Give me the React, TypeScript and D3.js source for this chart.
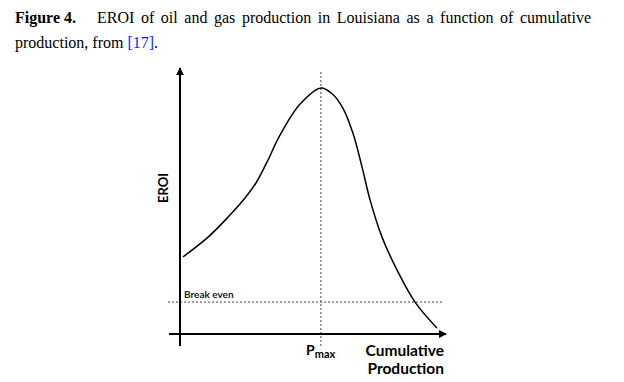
import React, { useLayoutEffect, useRef, useState } from "react";
import * as d3 from "d3";

const cumulativeProduction = [1.15, 10.8, 18.5, 25.0, 29.2, 33.5, 38.5, 46.2, 54.2, 58.5, 62.7, 66.5, 70.0, 73.1, 77.7, 83.5, 90.4, 98.8];
const eroiValues = [29.2, 36.7, 44.3, 51.5, 57.2, 65.2, 75.4, 87.1, 93.2, 91.0, 85.5, 76.1, 63.3, 50.8, 36.7, 24.2, 12.1, 2.3];
const breakEven = 12.1;
const pMax = 54.2;
const captionLabel = "Figure 4.";
const captionLine1 = "EROI of oil and gas production in Louisiana as a function of cumulative";
const captionLine2a = "production, from ";
const captionRef = "[17]";
const captionLine2b = ".";

export default function App() {
  const W = 624, H = 382;
  const x = d3.scaleLinear().domain([0, 100]).range([180, 440]);
  const y = d3.scaleLinear().domain([0, 100]).range([334, 70]);
  const line = d3
    .line<number>()
    .x((_, i) => x(cumulativeProduction[i]))
    .y((d) => y(d))
    .curve(d3.curveCatmullRom.alpha(0.5));

  const capRef = useRef<SVGTextElement>(null);
  const [ws, setWs] = useState(0);
  useLayoutEffect(() => {
    if (capRef.current) {
      const natural = capRef.current.getComputedTextLength();
      const spaces = captionLine1.split(" ").length - 1;
      setWs((591 - 97 - natural) / spaces);
    }
  }, []);

  const x0 = x(0);
  const y0 = y(0);
  const serif = "'Liberation Serif', 'Times New Roman', serif";
  const sans = "Lato, 'Open Sans', sans-serif";

  return (
    <svg width={W} height={H} style={{ position: "absolute", left: 0, top: 0 }}>
      <rect width={W} height={H} fill="#fff" />
      <defs>
        <marker id="arr" viewBox="0 0 10 10" refX="9" refY="5" markerWidth="4" markerHeight="4" orient="auto">
          <path d="M0,0 L10,5 L0,10 z" fill="#000" />
        </marker>
      </defs>
      {/* caption */}
      <text x={15} y={23} fontFamily={serif} fontSize={16} fontWeight="bold" fill="#000">{captionLabel}</text>
      <text ref={capRef} x={97} y={23} fontFamily={serif} fontSize={16} fill="#000" style={{ wordSpacing: `${ws}px` }}>
        {captionLine1}
      </text>
      <text x={15} y={48} fontFamily={serif} fontSize={16} fill="#000">
        {captionLine2a}
        <tspan fill="#1a1aff">{captionRef}</tspan>
        {captionLine2b}
      </text>

      {/* dotted reference lines */}
      <line x1={168} x2={443} y1={y(breakEven)} y2={y(breakEven)} stroke="#444" strokeWidth={1} strokeDasharray="2,2" />
      <line x1={x(pMax)} x2={x(pMax)} y1={72} y2={346} stroke="#444" strokeWidth={1} strokeDasharray="2,2" />

      {/* axes */}
      <line x1={x0} x2={x0} y1={346} y2={68} stroke="#000" strokeWidth={2} markerEnd="url(#arr)" />
      <line x1={169} x2={446} y1={y0} y2={y0} stroke="#000" strokeWidth={2} markerEnd="url(#arr)" />

      {/* curve */}
      <path d={line(eroiValues) || ""} fill="none" stroke="#000" strokeWidth={1.5} />

      {/* labels */}
      <text x={184} y={298} fontFamily={sans} fontSize={10} fontWeight="bold" fill="#222">Break even</text>
      <text transform="translate(168,188) rotate(-90)" textAnchor="middle" fontFamily={sans} fontSize={13} fontWeight="bold" fill="#000">EROI</text>
      <text x={306} y={355} fontFamily={sans} fontSize={14} fontWeight="bold" fill="#000">
        P<tspan dy={3} fontSize={11}>max</tspan>
      </text>
      <text x={444} y={356} textAnchor="end" fontFamily={sans} fontSize={15.5} fontWeight="bold" fill="#000">Cumulative</text>
      <text x={444} y={374} textAnchor="end" fontFamily={sans} fontSize={15.5} fontWeight="bold" fill="#000">Production</text>
    </svg>
  );
}
